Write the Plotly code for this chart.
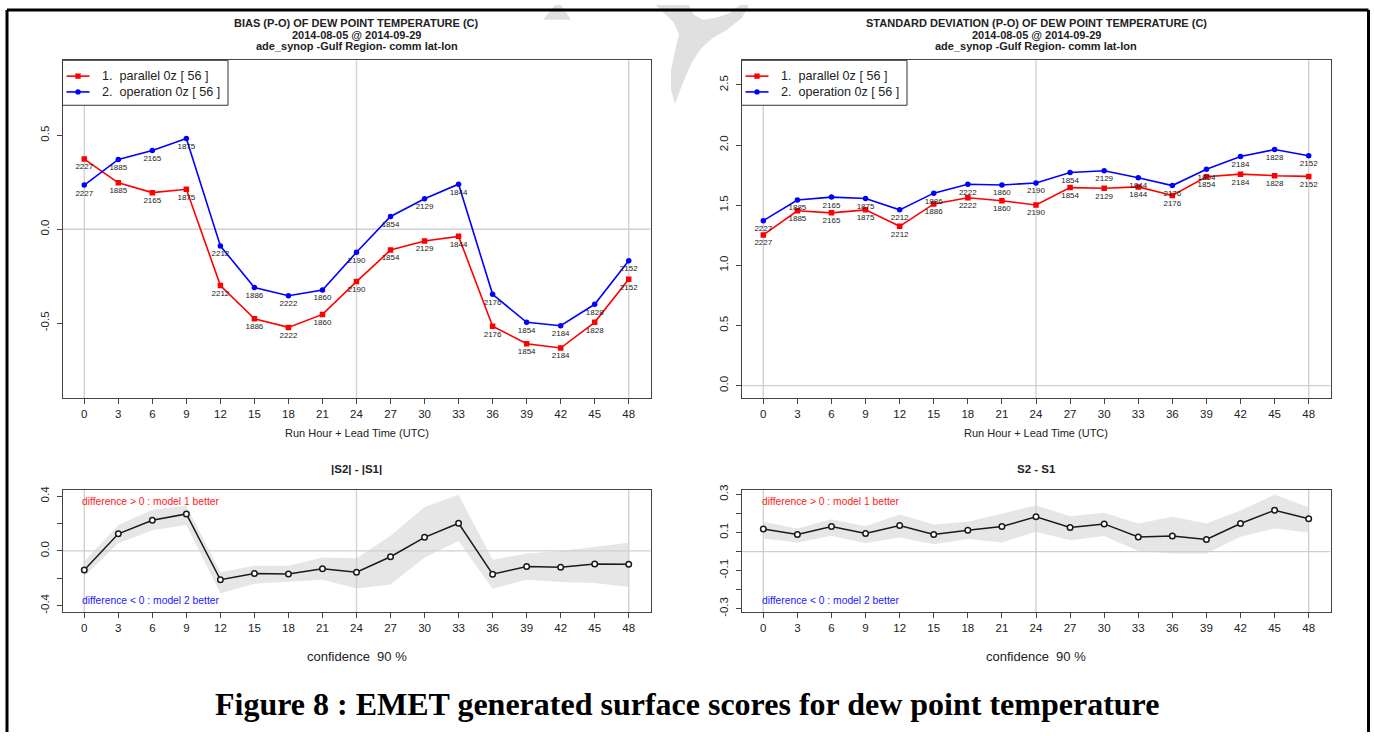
import plotly.graph_objects as go

W, H = 1374, 736

# Lead times (hours) and number of observation pairs at each lead time
HOURS = list(range(0, 49, 3))
COUNTS = [2227, 1885, 2165, 1875, 2212, 1886, 2222, 1860, 2190,
          1854, 2129, 1844, 2176, 1854, 2184, 1828, 2152]

# Bias (P-O) of dew point temperature, deg C
BIAS_PARALLEL = [0.374, 0.247, 0.195, 0.213, -0.300, -0.477, -0.523, -0.454, -0.279,
                 -0.111, -0.063, -0.038, -0.517, -0.610, -0.633, -0.496, -0.266]
BIAS_OPERATION = [0.235, 0.372, 0.419, 0.483, -0.089, -0.311, -0.354, -0.324, -0.123,
                  0.068, 0.162, 0.240, -0.347, -0.496, -0.514, -0.400, -0.168]

# Standard deviation (P-O) of dew point temperature, deg C
STD_PARALLEL = [1.253, 1.453, 1.436, 1.461, 1.324, 1.510, 1.562, 1.537, 1.502,
                1.646, 1.641, 1.652, 1.581, 1.736, 1.758, 1.745, 1.739]
STD_OPERATION = [1.371, 1.543, 1.567, 1.556, 1.461, 1.600, 1.674, 1.668, 1.684,
                 1.772, 1.786, 1.728, 1.663, 1.799, 1.905, 1.962, 1.911]

# 90 % confidence bounds of the score differences
BIAS_DIFF_LOW = [-0.185, 0.055, 0.150, 0.190, -0.310, -0.240, -0.226, -0.210, -0.274,
                 -0.245, -0.048, 0.072, -0.276, -0.210, -0.228, -0.235, -0.264]
BIAS_DIFF_HIGH = [-0.077, 0.190, 0.300, 0.330, -0.156, -0.108, -0.108, -0.048, -0.053,
                  0.110, 0.320, 0.410, -0.065, -0.019, 0.000, 0.031, 0.060]
STD_DIFF_LOW = [0.069, 0.047, 0.083, 0.043, 0.073, 0.038, 0.066, 0.048, 0.104,
                0.059, 0.081, 0.003, -0.010, -0.010, 0.078, 0.121, 0.100]
STD_DIFF_HIGH = [0.156, 0.121, 0.170, 0.133, 0.194, 0.142, 0.156, 0.199, 0.242,
                 0.185, 0.204, 0.147, 0.182, 0.147, 0.216, 0.298, 0.232]

BIAS_DIFF = [abs(o) - abs(p) for o, p in zip(BIAS_OPERATION, BIAS_PARALLEL)]
STD_DIFF = [o - p for o, p in zip(STD_OPERATION, STD_PARALLEL)]

REF_HOURS = [0, 24, 48]
SERIES_NAMES = ["1.  parallel 0z [ 56 ]", "2.  operation 0z [ 56 ]"]

RED, BLUE = "#ff0000", "#0000ff"
GRID = "#cfcfcf"
FRAME = "#444444"
TXT = "#222222"
FONT = "Liberation Sans"
BAND = "#e6e6e6"

X_RANGE = [-1.92, 49.92]


def px(x):
    return x / W


def py(y):
    return 1 - y / H


# panel frames in pixels: (left, right, top, bottom)
PANELS = {
    1: (62.5, 650.5, 56, 398),
    2: (741.5, 1330.5, 56, 398),
    3: (62.5, 650.5, 491, 615),
    4: (741.5, 1330.5, 491, 615),
}
Y_RANGES = {1: [-0.9, 0.9], 2: [-0.104, 2.704], 3: [-0.45, 0.445], 4: [-0.32, 0.323]}
Y_TICKS = {
    1: ([-0.5, 0.0, 0.5], ["-0.5", "0.0", "0.5"]),
    2: ([0, 0.5, 1.0, 1.5, 2.0, 2.5], ["0.0", "0.5", "1.0", "1.5", "2.0", "2.5"]),
    3: ([-0.4, -0.2, 0.0, 0.2, 0.4], ["-0.4", "", "0.0", "", "0.4"]),
    4: ([-0.3, -0.2, -0.1, 0.0, 0.1, 0.2, 0.3], ["-0.3", "", "-0.1", "", "0.1", "", "0.3"]),
}

fig = go.Figure()


def axes_ids(k):
    return ("x" if k == 1 else f"x{k}"), ("y" if k == 1 else f"y{k}")


def add_refs(k):
    xa, ya = axes_ids(k)
    lo, hi = Y_RANGES[k]
    for h in REF_HOURS:
        fig.add_trace(go.Scatter(x=[h, h], y=[lo, hi], mode="lines", xaxis=xa, yaxis=ya,
                                 line=dict(color=GRID, width=1.3), hoverinfo="skip",
                                 showlegend=False))
    fig.add_trace(go.Scatter(x=X_RANGE, y=[0, 0], mode="lines", xaxis=xa, yaxis=ya,
                             line=dict(color=GRID, width=1.3), hoverinfo="skip",
                             showlegend=False))


def add_scores(k, par, op):
    xa, ya = axes_ids(k)
    for vals, col, sym, name in ((par, RED, "square", SERIES_NAMES[0]),
                                 (op, BLUE, "circle", SERIES_NAMES[1])):
        fig.add_trace(go.Scatter(
            x=HOURS, y=vals, xaxis=xa, yaxis=ya, name=name,
            mode="lines+markers+text", text=[str(c) for c in COUNTS],
            textposition="bottom center",
            textfont=dict(family=FONT, size=8, color=TXT),
            line=dict(color=col, width=1.6),
            marker=dict(color=col, symbol=sym, size=5.5, line=dict(width=0)),
            showlegend=False))


def add_diff(k, diff, low, high):
    xa, ya = axes_ids(k)
    fig.add_trace(go.Scatter(x=HOURS + HOURS[::-1], y=high + low[::-1], xaxis=xa, yaxis=ya,
                             fill="toself", fillcolor=BAND, mode="lines",
                             line=dict(width=0, color=BAND), hoverinfo="skip",
                             showlegend=False))
    add_refs(k)
    fig.add_trace(go.Scatter(x=HOURS, y=diff, xaxis=xa, yaxis=ya, mode="lines+markers",
                             line=dict(color="#1a1a1a", width=1.5),
                             marker=dict(symbol="circle", size=5.5, color="white",
                                         line=dict(color="#1a1a1a", width=1.5)),
                             showlegend=False))


add_refs(1)
add_scores(1, BIAS_PARALLEL, BIAS_OPERATION)
add_refs(2)
add_scores(2, STD_PARALLEL, STD_OPERATION)
add_diff(3, BIAS_DIFF, BIAS_DIFF_LOW, BIAS_DIFF_HIGH)
add_diff(4, STD_DIFF, STD_DIFF_LOW, STD_DIFF_HIGH)

layout = dict(
    width=W, height=H, margin=dict(l=0, r=0, t=0, b=0),
    paper_bgcolor="white", plot_bgcolor="white", showlegend=False,
    font=dict(family=FONT, color=TXT),
)
for k, (l, r, t, b) in PANELS.items():
    xa, ya = axes_ids(k)
    xname = "xaxis" if k == 1 else f"xaxis{k}"
    yname = "yaxis" if k == 1 else f"yaxis{k}"
    layout[xname] = dict(
        domain=[px(l), px(r)], range=X_RANGE, anchor=ya,
        tickmode="array", tickvals=HOURS, ticktext=[str(h) for h in HOURS],
        ticks="outside", ticklen=5, tickcolor=FRAME, tickwidth=1,
        showgrid=False, zeroline=False, showline=True, mirror=True,
        linecolor=FRAME, linewidth=1, tickfont=dict(size=11.5, color=TXT, family=FONT),
    )
    tv, tt = Y_TICKS[k]
    layout[yname] = dict(
        domain=[py(b), py(t)], range=Y_RANGES[k], anchor=xa,
        tickmode="array", tickvals=tv, ticktext=tt, tickangle=-90,
        ticks="outside", ticklen=5, tickcolor=FRAME, tickwidth=1,
        showgrid=False, zeroline=False, showline=True, mirror=True,
        linecolor=FRAME, linewidth=1, tickfont=dict(size=11.5, color=TXT, family=FONT),
        ticklabelstandoff=3,
    )
fig.update_layout(**layout)

ann = []


def text(x, y, s, size=10.5, bold=False, color=TXT, xanchor="center", family=FONT):
    ann.append(dict(x=px(x), y=py(y), xref="paper", yref="paper", showarrow=False,
                    text=f"<b>{s}</b>" if bold else s, xanchor=xanchor, yanchor="middle",
                    font=dict(family=family, size=size, color=color)))


# panel headings
for cx, head in ((356.5, "BIAS (P-O) OF DEW POINT TEMPERATURE (C)"),
                 (1036, "STANDARD DEVIATION (P-O) OF DEW POINT TEMPERATURE (C)")):
    text(cx, 18, head, size=11, bold=True)
    text(cx, 30, "2014-08-05 @ 2014-09-29", size=11, bold=True)
    text(cx, 42, "ade_synop -Gulf Region- comm lat-lon", size=11, bold=True)
    text(cx, 433, "Run Hour + Lead Time (UTC)", size=11)

text(356.5, 470, "|S2| - |S1|", size=11.5, bold=True)
text(1036, 470, "S2 - S1", size=11.5, bold=True)
for cx, lx in ((356.5, 80), (1036, 760)):
    text(cx, 660, "confidence  90 %", size=13)
    text(lx, 503, "difference &gt; 0 : model 1 better", size=10.3, color="#ff2020", xanchor="left")
    text(lx, 603, "difference &lt; 0 : model 2 better", size=10.3, color="#2020ff", xanchor="left")

text(687, 708, "Figure 8 : EMET generated surface scores for dew point temperature",
     size=32, bold=True, color="#000000", family="Liberation Serif")

shapes = []

# hand-drawn legends
for lx in (62.5, 741.5):
    shapes.append(dict(type="rect", xref="paper", yref="paper", x0=px(lx), x1=px(lx + 165.5),
                       y0=py(101.5), y1=py(56), line=dict(color="#333333", width=1),
                       fillcolor="white", layer="above"))
    for yy, col, kind, name in ((72, RED, "rect", SERIES_NAMES[0]),
                                (88, BLUE, "circle", SERIES_NAMES[1])):
        shapes.append(dict(type="line", xref="paper", yref="paper", x0=px(lx + 4),
                           x1=px(lx + 27), y0=py(yy), y1=py(yy),
                           line=dict(color=col, width=1.6), layer="above"))
        shapes.append(dict(type=kind, xref="paper", yref="paper", x0=px(lx + 12.8),
                           x1=px(lx + 18.2), y0=py(yy + 2.7), y1=py(yy - 2.7),
                           line=dict(width=0), fillcolor=col, layer="above"))
        ann.append(dict(x=px(lx + 37.5), y=py(yy), xref="paper", yref="paper",
                        showarrow=False, text=name, xanchor="left", yanchor="middle",
                        font=dict(family=FONT, size=12.6, color=TXT)))


def poly(points):
    d = "M " + " L ".join(f"{px(x):.5f},{py(y):.5f}" for x, y in points) + " Z"
    return d


# faint watermark marks at the top of the page
shapes.append(dict(type="path", xref="paper", yref="paper", layer="below",
                   path=poly([(543, 15), (571, 15), (561, 0), (555, 0)]),
                   fillcolor="#e0e0e0", line=dict(width=0)))
shapes.append(dict(type="path", xref="paper", yref="paper", layer="below",
                   path=poly([(656, 0), (689, 0), (694, 10), (703, 15), (716, 13), (730, 8),
                              (740, 0), (749, 0), (742, 13), (727, 25), (712, 34), (701, 44),
                              (692, 58), (684, 76), (675, 100), (671, 86), (671, 66),
                              (675, 46), (679, 30), (674, 18), (665, 9)]),
                   fillcolor="#e0e0e0", line=dict(width=0)))

# page frame
for x0, y0, x1, y1 in ((7, 5, 7, 736), (7, 5, 1368.5, 5), (1368.5, 5, 1368.5, 736)):
    shapes.append(dict(type="line", xref="paper", yref="paper", x0=px(x0), y0=py(y0),
                       x1=px(x1), y1=py(y1), line=dict(color="black", width=3),
                       layer="above"))

fig.update_layout(annotations=ann, shapes=shapes)
fig.write_html("out.html")
